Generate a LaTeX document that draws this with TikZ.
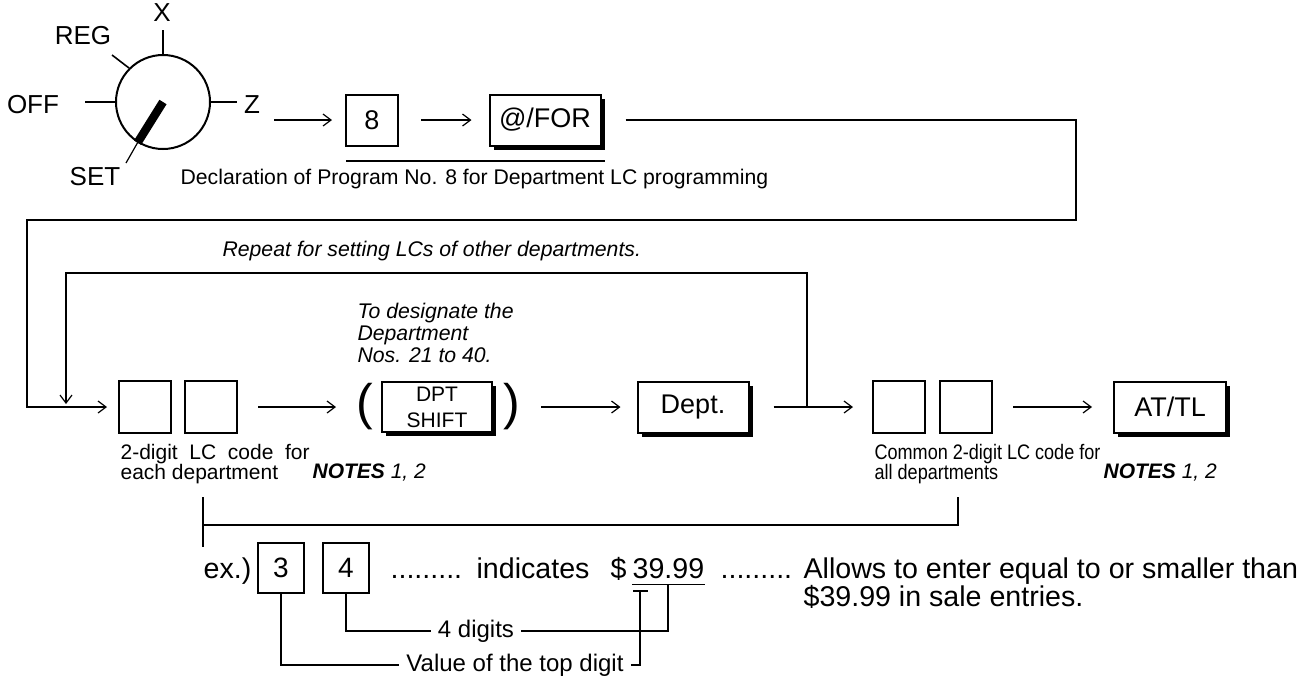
\documentclass[tikz,border=0pt]{standalone}
\usepackage{fontspec}
\setmainfont{Liberation Sans}
\newfontfamily\narrowfont[FakeStretch=0.86]{Liberation Sans}
\usetikzlibrary{arrows.meta,positioning,shadows}

\begin{document}
\begin{tikzpicture}[x=0.5pt,y=-0.5pt,
  font=\fontsize{13.5}{15}\selectfont, line width=0.6pt,
  flow/.style={-{Straight Barb[length=4pt,width=6pt]}},
  keybox/.style={draw, line width=1pt, minimum width=26pt, minimum height=26pt, inner sep=0pt},
  shadowkey/.style={keybox, fill=white, minimum height=25.5pt,
    drop shadow={shadow xshift=2pt, shadow yshift=-2pt, opacity=1, fill=black}},
  small/.style={font=\fontsize{10.5}{10}\selectfont, inner sep=0pt},
  note/.style={font=\fontsize{10.6}{11}\selectfont\itshape, inner sep=0pt},
  rowtext/.style={font=\fontsize{14.3}{16}\selectfont, inner sep=0pt},
  dialtext/.style={font=\fontsize{13}{15}\selectfont, inner sep=0pt}]
\useasboundingbox (0,0) rectangle (1311,681);

% mode switch
\node (dial) [circle, draw, line width=1pt, minimum size=47pt, inner sep=0pt] at (163,102) {};
\node (off) [dialtext] at (33,105) {OFF};
\node (reg) [dialtext] at (83,36) {REG};
\node (xmode) [dialtext] at (162,13) {X};
\node (zmode) [dialtext] at (252,105) {Z};
\node (set) [dialtext] at (95,177) {SET};
\coordinate (offtick) at (85,102);
\coordinate (regtick) at (112,55);
\coordinate (xtick) at (163,30);
\coordinate (ztick) at (237,102);
\coordinate (settip) at (126,163);
\draw[line width=0.8pt] (dial.west) -- (offtick);
\draw[line width=0.8pt] (dial.135) -- (regtick);
\draw[line width=0.8pt] (dial.north) -- (xtick);
\draw[line width=0.8pt] (dial.east) -- (ztick);
\draw[line width=4.2pt] (dial.center) -- (dial.238);
\draw (dial.238) -- (settip);

% program declaration
\coordinate (zout) at (274,120);
\node (box8) [keybox, minimum height=25.5pt] at (372,120) {8};
\node (atfor) [shadowkey, minimum width=55.5pt] at (545,120) {@/FOR};
\draw[flow, shorten >=6.5pt] (zout) -- (box8);
\draw[flow, shorten <=11pt, shorten >=8.5pt] (box8) -- (atfor);
\coordinate (declL) at (346,161);
\coordinate (declR) at (605,161);
\draw (declL) -- (declR);
\node (decl) [small, font=\fontsize{10.6}{12}\selectfont, anchor=west] at (180,179) {Declaration of Program No. 8 for Department LC programming};

% department LC entry
\node (lc1) [keybox] at (145,407) {};
\node (lc2) [keybox] at (211,407) {};
\node (lpar) [font=\fontsize{25}{25}\selectfont, inner sep=0pt] at (365,407) {(};
\node (dpt) [shadowkey, minimum width=55pt, minimum height=25pt, align=center,
  font=\fontsize{10.5}{13}\selectfont] at (437,407) {DPT\\SHIFT};
\node (rpar) [font=\fontsize{25}{25}\selectfont, inner sep=0pt] at (512,407) {)};
\node (dept) [shadowkey, minimum width=55.5pt] at (693,407) {Dept.};
\node (lc3) [keybox] at (899,407) {};
\node (lc4) [keybox] at (966,407) {};
\node (attl) [shadowkey, minimum width=56pt] at (1170,407) {AT/TL};

\coordinate (ret1) at (1076,220);
\coordinate (ret2) at (27,407);
\draw[flow, shorten <=12pt, shorten >=5.5pt] (atfor.east) -| (ret1) -| (ret2) -- (lc1);
\draw[flow, shorten <=10pt, shorten >=22.5pt] (lc2) -- (dpt);
\draw[flow, shorten <=24pt, shorten >=8pt] (dpt) -- (dept);
\draw[flow, shorten <=12pt, shorten >=9.5pt] (dept) -- (lc3);
\draw[flow, shorten <=10pt, shorten >=10.5pt] (lc4) -- (attl);

% repeat loop
\coordinate (repFrom) at (807,407);
\coordinate (repTop) at (66,273);
\coordinate (repTo) at (66,404);
\draw[flow] (repFrom) |- (repTop) -- (repTo);
\node (repeat) [note, anchor=west] at (222,251) {Repeat for setting LCs of other departments.};
\node (desig) [note, anchor=west, align=left] at (357,333) {To designate the\\Department\\Nos. 21 to 40.};

% labels under the keys
\node (lcnote) [small, anchor=north west, align=left] at (120,444) {2-digit\ \ LC\ \ code\ \ for\\each department};
\node (notesA) [small, anchor=west] at (312,473) {\textbf{\textit{NOTES}} \textit{1, 2}};
\node (comnote) [small, anchor=north west, align=left, font=\fontsize{10.5}{10}\narrowfont] at (874,444) {Common 2-digit LC code for\\all departments};
\node (notesB) [small, anchor=west] at (1103,473) {\textbf{\textit{NOTES}} \textit{1, 2}};

\coordinate (brTop) at (203,497);
\coordinate (brMid) at (203,525);
\coordinate (brBot) at (203,547);
\coordinate (brR) at (958,497);
\draw (brTop) -- (brBot);
\draw (brMid) -| (brR);

% example
\node (ex) [rowtext, anchor=base east] at (252,578) {ex.)};
\node (d3) [keybox, minimum width=23pt, minimum height=25pt, font=\fontsize{14}{16}\selectfont] at (281,568) {3};
\node (d4) [keybox, minimum width=23pt, minimum height=25pt, font=\fontsize{14}{16}\selectfont] at (346,568) {4};
\node (dots1) [rowtext, anchor=base west] at (390,578) {.........};
\node (ind) [rowtext, anchor=base west] at (476,578) {indicates};
\node (dol) [rowtext, anchor=base west] at (610,578) {\$};
\node (num) [rowtext, anchor=base west] at (632,578) {39.99};
\node (dots2) [rowtext, anchor=base west] at (720,578) {.........};
\node (allowA) [rowtext, anchor=base west] at (803,578) {Allows to enter equal to or smaller than};
\node (allowB) [rowtext, anchor=base west] at (803,606) {\$39.99 in sale entries.};
\draw ([yshift=-3pt]num.south west) -- ([yshift=-3pt]num.south east);

\node (four) [font=\fontsize{12}{14}\selectfont] at (476,631) {4 digits};
\node (topd) [font=\fontsize{12}{14}\selectfont] at (515,665) {Value of the top digit};
\coordinate (u4) at (668,584);
\coordinate (u3) at (640,591);
\coordinate (u3a) at (633,591);
\coordinate (u3b) at (648,591);
\draw (d4.south) |- (four.west);
\draw (four.east) -| (u4);
\draw (d3.south) |- (topd.west);
\draw (topd.east) -| (u3);
\draw (u3a) -- (u3b);
\end{tikzpicture}
\end{document}
